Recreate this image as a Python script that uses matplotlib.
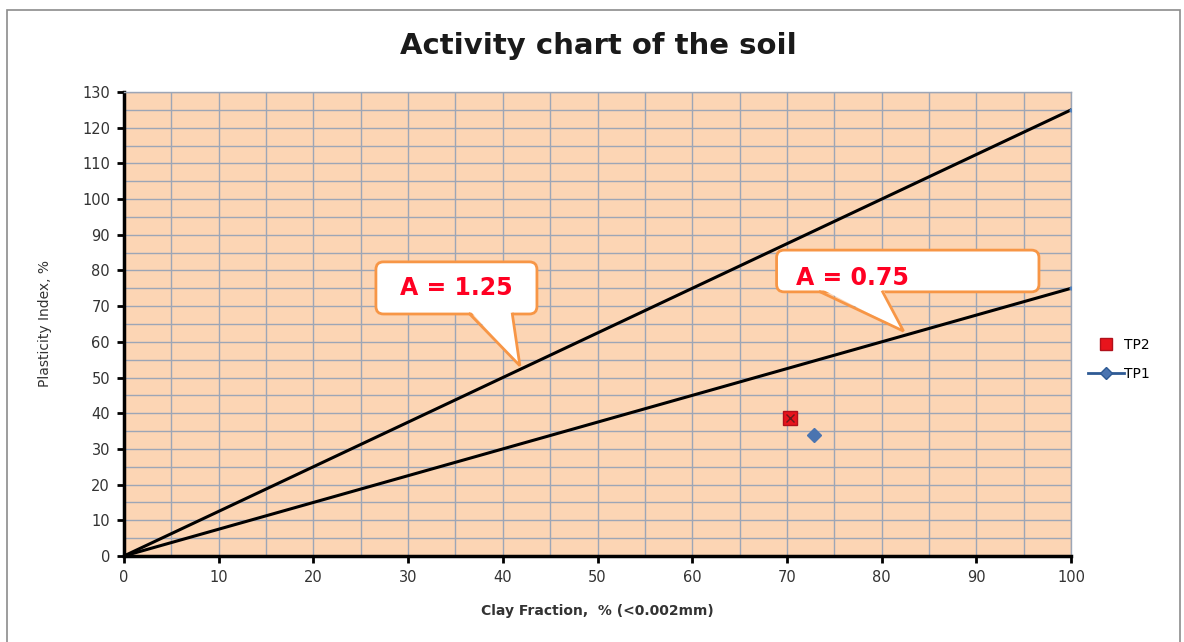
import numpy as np
import matplotlib
matplotlib.use("Agg")
import matplotlib.pyplot as plt
from matplotlib.patches import Rectangle, FancyBboxPatch, Polygon

## DATA ##
LINE_X = [0, 100]
ACTIVITY_HIGH = 1.25
ACTIVITY_LOW = 0.75

TP2_X = [70.3]
TP2_Y = [38.6]
TP1_X = [72.8]
TP1_Y = [33.9]

X_TICKS = list(range(0, 101, 10))
Y_TICKS = list(range(0, 131, 10))

## STYLE ##
BG = "#FCD5B4"
GRID = "#9DA6B6"
LABEL_RED = "#FF0022"
CALLOUT_EDGE = "#F79646"
ASPECT = 2.65  # x unit / y unit in pixels

fig = plt.figure(figsize = (11.84, 6.42), dpi = 100)
fig.patches.append(Rectangle(
	(7 / 1184, -0.01), 1173 / 1184, 1 - 10 / 642 + 0.01,
	transform = fig.transFigure, fill = False,
	edgecolor = "#8C8C8C", linewidth = 1.2
))

ax = fig.add_axes([0.1047, 0.134, 0.8000, 0.7227])
ax.set_facecolor(BG)

x_line = np.array(LINE_X, dtype = float)
ax.plot(x_line, ACTIVITY_HIGH * x_line, color = "black", linewidth = 2.2, zorder = 3)
ax.plot(x_line, ACTIVITY_LOW * x_line, color = "black", linewidth = 2.2, zorder = 3)
ax.plot([100, 100], [ACTIVITY_HIGH * 100, ACTIVITY_LOW * 100], linestyle = "none",
	marker = "o", markersize = 2, color = "#4F81BD", zorder = 4)

ax.plot(TP2_X, TP2_Y, linestyle = "none", marker = "s", markersize = 10,
	markerfacecolor = "#E8141C", markeredgecolor = "#B0101A", zorder = 5)
ax.plot(TP2_X, TP2_Y, linestyle = "none", marker = "x", markersize = 6,
	color = "#6A1A1A", markeredgewidth = 1, zorder = 6)
ax.plot(TP1_X, TP1_Y, linestyle = "none", marker = "D", markersize = 7,
	color = "#4A74B0", zorder = 5)

ax.set_xlim(0, 100)
ax.set_ylim(0, 130)
ax.set_xticks(X_TICKS)
ax.set_yticks(Y_TICKS)
ax.set_xticks(np.arange(0, 101, 5), minor = True)
ax.set_yticks(np.arange(0, 131, 5), minor = True)
ax.grid(which = "both", color = GRID, linewidth = 1.0, zorder = 0)
ax.set_axisbelow(True)
ax.tick_params(which = "minor", length = 0)
ax.tick_params(which = "major", length = 5, width = 2, direction = "out",
	labelsize = 10.5, colors = "black", labelcolor = "#333333", pad = 5)

for side in ["top", "right"]:
	ax.spines[side].set_color(GRID)
	ax.spines[side].set_linewidth(1)
for side in ["left", "bottom"]:
	ax.spines[side].set_color("black")
	ax.spines[side].set_linewidth(2.5)

ax.set_xlabel("Clay Fraction,  % (<0.002mm)", fontsize = 10, fontweight = "bold",
	color = "#333333", labelpad = 14)
ax.set_ylabel("Plasticity Index, %", fontsize = 10, color = "#333333", labelpad = 22)

fig.text(0.505, 0.928, "Activity chart of the soil", ha = "center", va = "center",
	fontsize = 21, fontweight = "bold", color = "#1A1A1A")

## CALLOUTS ##
def callout(text, box, base, tip, text_xy, ha):
	x0, y0, x1, y1 = box
	ax.add_patch(FancyBboxPatch(
		(x0, y0), x1 - x0, y1 - y0,
		boxstyle = "round,pad=0,rounding_size=0.8", mutation_aspect = ASPECT,
		fc = "white", ec = CALLOUT_EDGE, lw = 2, zorder = 7
	))
	ax.add_patch(Polygon(
		[(base[0], y0 + 1.0), (base[1], y0 + 1.0), tip],
		closed = True, fc = "white", ec = "none", zorder = 8
	))
	ax.plot([base[0], tip[0], base[1]], [y0, tip[1], y0],
		color = CALLOUT_EDGE, linewidth = 2, zorder = 8, solid_joinstyle = "miter")
	ax.text(text_xy[0], text_xy[1], text, ha = ha, va = "center",
		fontsize = 17, fontweight = "bold", color = LABEL_RED, zorder = 9)

callout("A = 1.25", (26.6, 67.8, 43.6, 82.4), (36.5, 41.0), (41.8, 53.3),
	(35.1, 75.1), "center")
callout("A = 0.75", (68.9, 74.0, 96.6, 85.7), (73.5, 80.1), (82.3, 63.0),
	(70.9, 77.9), "left")

## LEGEND ##
h_tp2 = ax.plot([], [], linestyle = "none", marker = "s", markersize = 8,
	markerfacecolor = "#E8141C", markeredgecolor = "#B0101A")[0]
h_tp1 = ax.plot([], [], color = "#2E5A94", linewidth = 2, marker = "D",
	markersize = 6, markerfacecolor = "#4A74B0")[0]
fig.legend([h_tp2, h_tp1], ["TP2", "TP1"], loc = "center left",
	bbox_to_anchor = (0.908, 0.44), frameon = False, fontsize = 10,
	handlelength = 2.6, labelspacing = 1.1, handletextpad = 0.05)

plt.savefig("out.png", dpi = 100)
